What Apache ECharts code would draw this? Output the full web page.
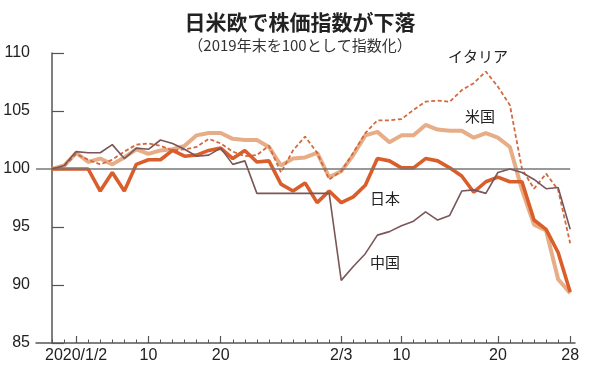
<!DOCTYPE html>
<html>
<head>
<meta charset="utf-8">
<script src="https://cdn.jsdelivr.net/npm/echarts@6/dist/echarts.min.js"></script>
<style>
  html, body { margin: 0; padding: 0; background: #fff; }
  #main { width: 600px; height: 376px; }
</style>
</head>
<body>
<div id="main"></div>
<script>
// 営業日（12/30 を 0 番目とする）
var days = ['12/30', '12/31', '1/2', '1/3', '1/6', '1/7', '1/8', '1/9', '1/10', '1/13', '1/14',
  '1/15', '1/16', '1/17', '1/20', '1/21', '1/22', '1/23', '1/24', '1/27', '1/28', '1/29',
  '1/30', '1/31', '2/3', '2/4', '2/5', '2/6', '2/7', '2/10', '2/11', '2/12', '2/13', '2/14',
  '2/17', '2/18', '2/19', '2/20', '2/21', '2/24', '2/25', '2/26', '2/27', '2/28'];

// 目盛りラベル（days の位置と表示文字）
var tickDays = [2, 8, 14, 24, 29, 37, 43];
var tickLabels = ['2020/1/2', '10', '20', '2/3', '10', '20', '28'];

var japan = [100, 100, 100, 100, 98.1, 99.7, 98.1, 100.4, 100.8, 100.8, 101.6,
  101.1, 101.2, 101.6, 101.8, 100.9, 101.6, 100.6, 100.7, 98.7, 98.1, 98.8,
  97.1, 98.1, 97.1, 97.6, 98.6, 100.9, 100.7, 100.1, 100.1, 100.9, 100.7, 100.1,
  99.4, 98.0, 98.9, 99.3, 98.9, 98.9, 95.6, 94.8, 92.8, 89.4];

var us = [100, 100.3, 101.4, 100.6, 100.9, 100.4, 101.0, 101.7, 101.3, 101.6, 101.7,
  102.0, 102.9, 103.1, 103.1, 102.6, 102.5, 102.5, 101.9, 100.3, 100.9, 101.0,
  101.4, 99.3, 99.8, 101.2, 102.9, 103.2, 102.3, 102.9, 102.9, 103.8, 103.4, 103.3,
  103.3, 102.7, 103.1, 102.7, 101.9, 98.2, 95.2, 94.7, 90.5, 89.3];

var italy = [100, 100.2, 101.3, 100.8, 100.4, 100.8, 101.5, 102.1, 102.2, 102.0, 101.6,
  101.7, 101.9, 102.6, 102.2, 101.5, 101.1, 101.2, 102.0, 99.7, 101.6, 102.8,
  101.4, 99.1, 99.8, 101.4, 103.1, 104.2, 104.2, 104.3, 105.1, 105.8, 105.9, 105.8,
  106.8, 107.4, 108.4, 107.1, 105.5, 100.0, 98.3, 99.6, 98.2, 93.6];

var china = [100, 100.3, 101.5, 101.4, 101.4, 102.1, 100.9, 101.8, 101.7, 102.5, 102.2,
  101.7, 101.1, 101.2, 101.8, 100.4, 100.7, 97.9, 97.9, 97.9, 97.9, 97.9,
  97.9, 97.9, 90.4, 91.6, 92.7, 94.3, 94.6, 95.1, 95.5, 96.3, 95.6, 96.0,
  98.1, 98.2, 97.9, 99.7, 100.0, 99.7, 99.1, 98.3, 98.4, 94.8];

function toPoints(arr) {
  return arr.map(function (v, i) { return [i, v]; });
}

var allDays = days.map(function (d, i) { return i; });
var numFont = 'Liberation Sans, Arial, sans-serif';
var jpFont = 'Noto Sans CJK JP, sans-serif';
var axisColor = '#555';

var chart = echarts.init(document.getElementById('main'), null, { renderer: 'canvas' });

var option = {
  animation: false,
  backgroundColor: '#fff',
  title: {
    text: '日米欧で株価指数が下落',
    subtext: '（2019年末を100として指数化）',
    left: 'center',
    top: 7,
    itemGap: 5,
    textStyle: { fontFamily: jpFont, fontSize: 21, fontWeight: 'bold', color: '#222' },
    subtextStyle: { fontFamily: jpFont, fontSize: 15, color: '#333' }
  },
  grid: { left: 36, right: 25, top: 53, bottom: 33 },
  xAxis: [
    {
      type: 'value',
      min: -1.33,
      max: 43.4,
      position: 'bottom',
      splitLine: { show: false },
      axisLine: { show: true, lineStyle: { color: axisColor, width: 1.5 } },
      axisTick: {
        show: true, inside: true, length: 7,
        customValues: tickDays,
        lineStyle: { color: axisColor, width: 1.2 }
      },
      axisLabel: {
        customValues: tickDays,
        formatter: function (v) {
          var k = tickDays.indexOf(Math.round(v));
          return k >= 0 ? tickLabels[k] : '';
        },
        fontFamily: numFont, fontSize: 16, color: '#222', margin: 5
      }
    },
    {
      type: 'value',
      min: -1.33,
      max: 43.4,
      position: 'bottom',
      splitLine: { show: false },
      axisLine: { show: false },
      axisTick: {
        show: true, inside: true, length: 3.5,
        customValues: allDays,
        lineStyle: { color: axisColor, width: 1 }
      },
      axisLabel: { show: false }
    }
  ],
  yAxis: {
    type: 'value',
    min: 85,
    max: 110,
    interval: 5,
    splitLine: { show: false },
    axisLine: { show: true, lineStyle: { color: axisColor, width: 1.5 } },
    axisTick: { show: true, inside: true, length: 12, lineStyle: { color: axisColor, width: 1.2 } },
    axisLabel: { fontFamily: numFont, fontSize: 16, color: '#222', margin: 6 }
  },
  series: [
    {
      name: '米国',
      type: 'line',
      data: toPoints(us),
      symbol: 'none',
      lineStyle: { color: '#e6ad86', width: 4 },
      z: 2,
      markLine: {
        silent: true,
        symbol: 'none',
        label: { show: false },
        lineStyle: { color: '#777', width: 1.5, type: 'solid' },
        data: [[{ coord: [-1.33, 100] }, { coord: [43, 100] }]]
      }
    },
    {
      name: 'イタリア',
      type: 'line',
      data: toPoints(italy),
      symbol: 'none',
      lineStyle: { color: '#d2693f', width: 1.8, type: [4, 2.5] },
      z: 3
    },
    {
      name: '日本',
      type: 'line',
      data: toPoints(japan),
      symbol: 'none',
      lineStyle: { color: '#d95e2b', width: 3.6 },
      z: 4
    },
    {
      name: '中国',
      type: 'line',
      data: toPoints(china),
      symbol: 'none',
      lineStyle: { color: '#7b5658', width: 1.6 },
      z: 5
    }
  ],
  graphic: [
    { type: 'text', left: 448, top: 49, style: { text: 'イタリア', font: '15px ' + jpFont, fill: '#222' } },
    { type: 'text', left: 465, top: 109, style: { text: '米国', font: '15px ' + jpFont, fill: '#222' } },
    { type: 'text', left: 370, top: 191, style: { text: '日本', font: '15px ' + jpFont, fill: '#222' } },
    { type: 'text', left: 370, top: 255, style: { text: '中国', font: '15px ' + jpFont, fill: '#222' } }
  ]
};

chart.setOption(option);
</script>
</body>
</html>
